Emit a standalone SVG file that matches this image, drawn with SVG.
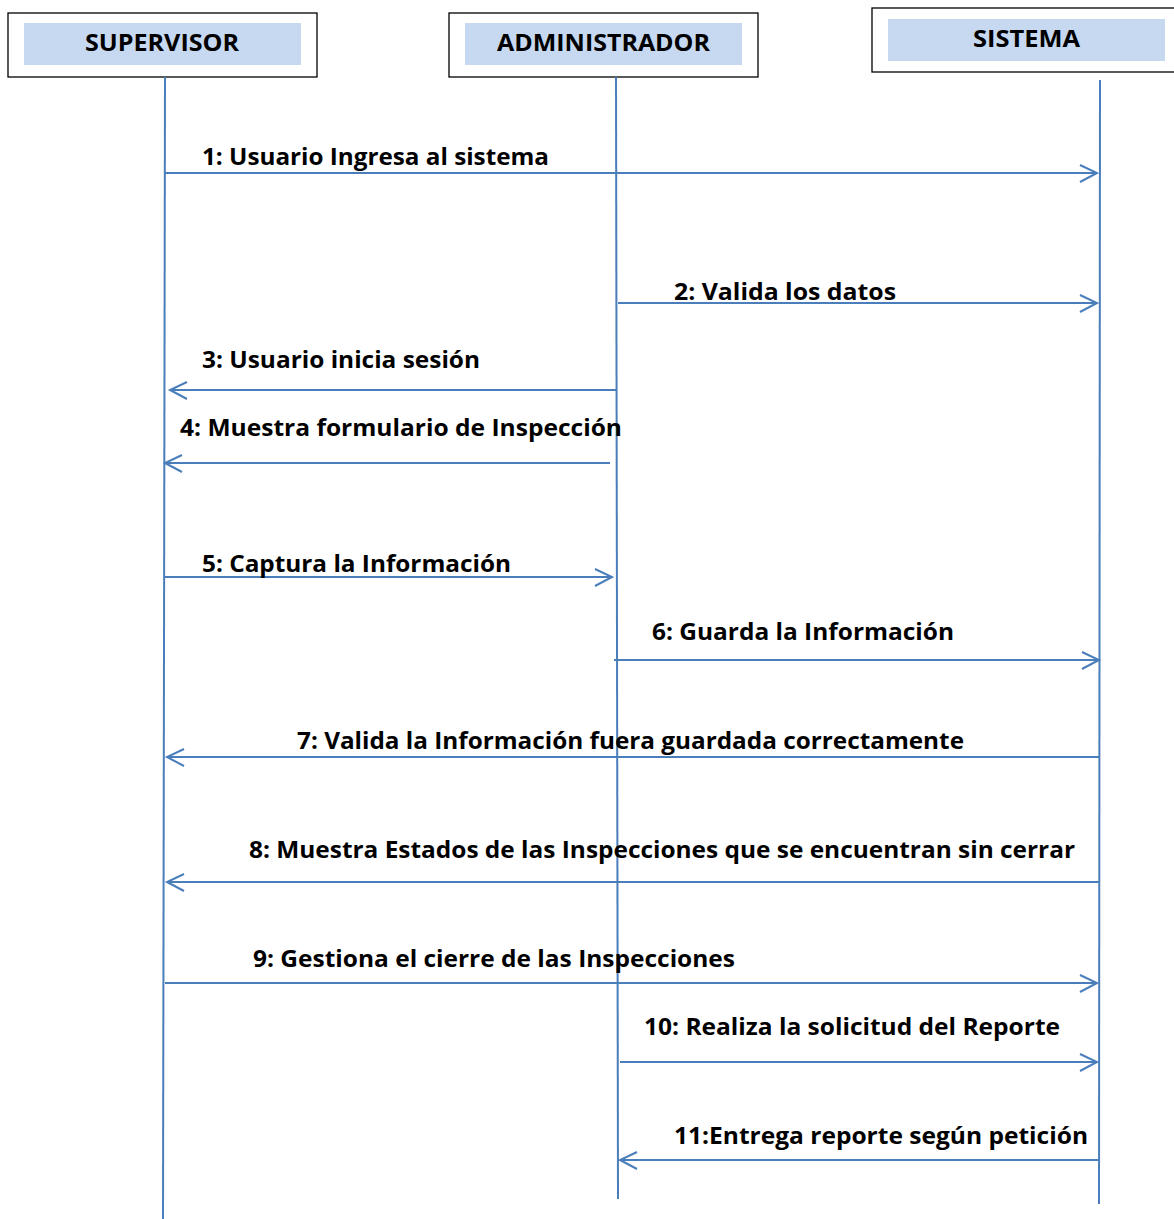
<svg xmlns="http://www.w3.org/2000/svg" width="1174" height="1219" viewBox="0 0 1174 1219">
<style>
.box{fill:#fff;stroke:#000;stroke-width:1.3}
.hdr{fill:#c6d9f1}
.t{font-family:"Open Sans","Liberation Sans",sans-serif;font-weight:bold;font-size:24px;fill:#000}
.life{stroke:#4a7ebb;stroke-width:2;fill:none}
.msg{stroke:#4a7ebb;stroke-width:2;fill:none}
.head{stroke:#4a7ebb;stroke-width:2;fill:none}
</style>
<rect width="1174" height="1219" fill="#fff"/>
<g id="supervisor">
<rect class="box" x="8" y="13" width="309" height="64"/>
<rect class="hdr" x="24" y="23" width="277" height="42"/>
<text class="t" x="85" y="51" textLength="154" lengthAdjust="spacingAndGlyphs">SUPERVISOR</text>
</g>
<g id="administrador">
<rect class="box" x="449" y="13" width="309" height="64"/>
<rect class="hdr" x="465" y="23" width="277" height="42"/>
<text class="t" x="497" y="51" textLength="213" lengthAdjust="spacingAndGlyphs">ADMINISTRADOR</text>
</g>
<g id="sistema">
<rect class="box" x="872" y="8" width="310" height="64"/>
<rect class="hdr" x="888" y="19" width="277" height="42"/>
<text class="t" x="973" y="47" textLength="107" lengthAdjust="spacingAndGlyphs">SISTEMA</text>
</g>
<g id="lifelines">
<line class="life" x1="165" y1="77" x2="163" y2="1219"/>
<line class="life" x1="616" y1="77" x2="618" y2="1199"/>
<line class="life" x1="1100" y1="80" x2="1099" y2="1204"/>
</g>
<g id="connectors">
<line class="msg" x1="165" y1="173" x2="1097" y2="173"/><polyline class="head" points="1080,165 1097,173 1080,182"/>
<line class="msg" x1="618" y1="303" x2="1097" y2="303"/><polyline class="head" points="1080,295 1097,303 1080,312"/>
<line class="msg" x1="616" y1="390" x2="170" y2="390"/><polyline class="head" points="187,382 170,390 187,399"/>
<line class="msg" x1="610" y1="463" x2="165" y2="463"/><polyline class="head" points="182,455 165,463 182,472"/>
<line class="msg" x1="165" y1="577" x2="612" y2="577"/><polyline class="head" points="595,569 612,577 595,586"/>
<line class="msg" x1="614" y1="660" x2="1099" y2="660"/><polyline class="head" points="1082,652 1099,660 1082,669"/>
<line class="msg" x1="1100" y1="757" x2="167" y2="757"/><polyline class="head" points="184,749 167,757 184,766"/>
<line class="msg" x1="1100" y1="882" x2="167" y2="882"/><polyline class="head" points="184,874 167,882 184,891"/>
<line class="msg" x1="165" y1="983" x2="1097" y2="983"/><polyline class="head" points="1080,975 1097,983 1080,992"/>
<line class="msg" x1="620" y1="1062" x2="1097" y2="1062"/><polyline class="head" points="1080,1054 1097,1062 1080,1071"/>
<line class="msg" x1="1100" y1="1160" x2="620" y2="1160"/><polyline class="head" points="637,1152 620,1160 637,1169"/>
</g>
<g id="labels">
<text class="t" x="202" y="165" textLength="347" lengthAdjust="spacingAndGlyphs">1: Usuario Ingresa al sistema</text>
<text class="t" x="674" y="300" textLength="222" lengthAdjust="spacingAndGlyphs">2: Valida los datos</text>
<text class="t" x="202" y="368" textLength="278" lengthAdjust="spacingAndGlyphs">3: Usuario inicia sesión</text>
<text class="t" x="180" y="436" textLength="442" lengthAdjust="spacingAndGlyphs">4: Muestra formulario de Inspección</text>
<text class="t" x="202" y="572" textLength="309" lengthAdjust="spacingAndGlyphs">5: Captura la Información</text>
<text class="t" x="652" y="640" textLength="302" lengthAdjust="spacingAndGlyphs">6: Guarda la Información</text>
<text class="t" x="297" y="749" textLength="667" lengthAdjust="spacingAndGlyphs">7: Valida la Información fuera guardada correctamente</text>
<text class="t" x="249" y="858" textLength="826" lengthAdjust="spacingAndGlyphs">8: Muestra Estados de las Inspecciones que se encuentran sin cerrar</text>
<text class="t" x="253" y="967" textLength="482" lengthAdjust="spacingAndGlyphs">9: Gestiona el cierre de las Inspecciones</text>
<text class="t" x="644" y="1035" textLength="416" lengthAdjust="spacingAndGlyphs">10: Realiza la solicitud del Reporte</text>
<text class="t" x="674" y="1144" textLength="414" lengthAdjust="spacingAndGlyphs">11:Entrega reporte según petición</text>
</g>
</svg>
